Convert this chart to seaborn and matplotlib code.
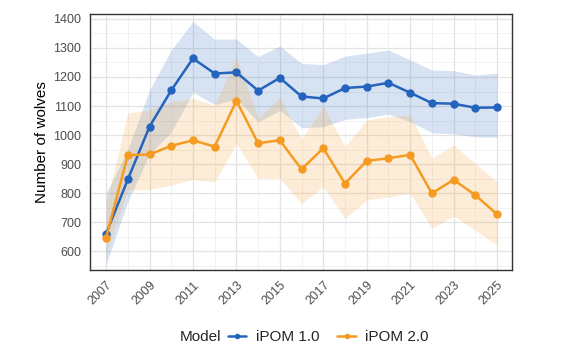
import matplotlib
matplotlib.use("Agg")
import matplotlib.pyplot as plt
from matplotlib.lines import Line2D
from matplotlib.ticker import MultipleLocator
import pandas as pd
import seaborn as sns

years = list(range(2007, 2026))

ipom1_mean = [660, 847, 1029, 1154, 1264, 1212, 1216, 1153, 1197, 1133,
              1126, 1162, 1167, 1180, 1146, 1110, 1108, 1094, 1095]
ipom1_low = [555, 770, 935, 1010, 1148, 1105, 1125, 1045, 1085, 1025,
             1029, 1054, 1060, 1072, 1046, 1008, 1004, 994, 992]
ipom1_high = [800, 950, 1155, 1293, 1391, 1330, 1331, 1270, 1307, 1247,
              1242, 1272, 1282, 1293, 1259, 1224, 1222, 1207, 1213]

ipom2_mean = [646, 931, 933, 963, 982, 960, 1118, 972, 982, 882,
              955, 833, 911, 920, 932, 799, 846, 793, 727]
ipom2_low = [590, 810, 812, 828, 847, 838, 971, 851, 851, 764,
             822, 712, 776, 787, 800, 678, 721, 672, 621]
ipom2_high = [760, 1076, 1086, 1115, 1127, 1102, 1270, 1058, 1130, 985,
              1099, 960, 1052, 1063, 1068, 920, 966, 902, 839]

models = ["iPOM 1.0", "iPOM 2.0"]
colors = {"iPOM 1.0": "#2464BE", "iPOM 2.0": "#F59B22"}

df = pd.concat([
    pd.DataFrame({"Year": years, "Wolves": ipom1_mean, "Low": ipom1_low,
                  "High": ipom1_high, "Model": models[0]}),
    pd.DataFrame({"Year": years, "Wolves": ipom2_mean, "Low": ipom2_low,
                  "High": ipom2_high, "Model": models[1]}),
])

sns.set_style("white")
plt.rcParams['font.family'] = ['Liberation Sans', 'DejaVu Sans']

fig = plt.figure(figsize=(5.65, 3.64), dpi=100)
ax = fig.add_axes([0.1593, 0.2582, 0.7469, 0.7033])

for m in models:
    sub = df[df["Model"] == m]
    ax.fill_between(sub["Year"], sub["Low"], sub["High"], color=colors[m],
                    alpha=0.18, linewidth=0, zorder=1)

sns.lineplot(data=df, x="Year", y="Wolves", hue="Model", palette=colors,
             marker="o", markersize=6, markeredgewidth=0, linewidth=1.8,
             legend=False, ax=ax, zorder=3)

ax.set_xlim(2006.26, 2025.69)
ax.set_ylim(535, 1417)
ax.set_xticks(years[::2])
ax.xaxis.set_minor_locator(MultipleLocator(1))
ax.yaxis.set_major_locator(MultipleLocator(100))
ax.yaxis.set_minor_locator(MultipleLocator(50))
ax.grid(which="major", color="#E3E3E3", linewidth=0.9, zorder=0)
ax.grid(which="minor", color="#F0F0F0", linewidth=0.6, zorder=0)
ax.set_axisbelow(True)

for s in ax.spines.values():
    s.set_color("#333333")
    s.set_linewidth(1.0)

ax.tick_params(axis="both", which="major", direction="out", length=3,
               width=0.8, color="#333333", labelsize=9, labelcolor="#4D4D4D")
ax.tick_params(axis="both", which="minor", length=0)
for lab in ax.get_xticklabels():
    lab.set_rotation(45)
    lab.set_ha("right")
    lab.set_rotation_mode("anchor")

ax.set_xlabel("")
ax.set_ylabel("Number of wolves", fontsize=11, color="black", labelpad=3)

fig.text(180 / 565, 0.074, "Model", fontsize=11, va="center", ha="left")
handles = [Line2D([], [], color=colors[m], marker="o", markersize=4,
                  markeredgewidth=0, linewidth=1.8) for m in models]
fig.legend(handles, models, loc="center left", bbox_to_anchor=(228 / 565, 0.074),
           ncol=2, frameon=False, fontsize=11, handlelength=1.2,
           handletextpad=0.6, columnspacing=1.2, borderaxespad=0, borderpad=0)

plt.savefig("out.png", dpi=100)
plt.close()
